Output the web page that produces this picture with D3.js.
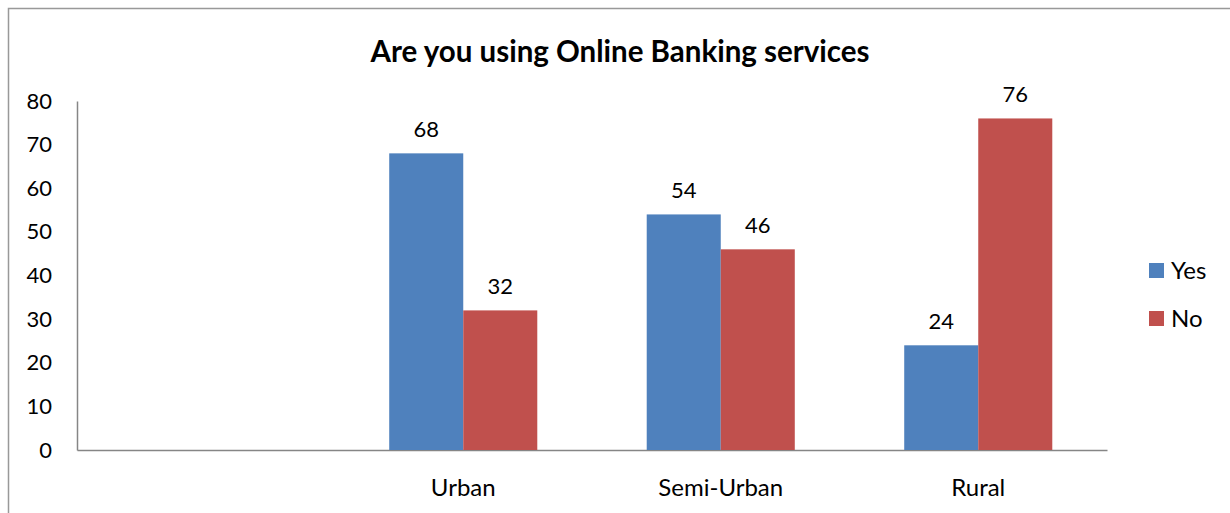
<!DOCTYPE html>
<html>
<head>
<meta charset="utf-8">
<script src="https://cdn.jsdelivr.net/npm/d3@7"></script>
<style>
  html, body { margin: 0; padding: 0; background: #fff; }
  svg { display: block; font-family: Lato, "Open Sans", sans-serif; }
</style>
</head>
<body>
<svg id="chart" width="1230" height="513"></svg>
<script>
// Survey answers by area (percent)
const categories = ["", "Urban", "Semi-Urban", "Rural"];
const seriesNames = ["Yes", "No"];
const yesValues = [null, 68, 54, 24];
const noValues = [null, 32, 46, 76];
const yTicks = [0, 10, 20, 30, 40, 50, 60, 70, 80];
const colors = ["#4F81BD", "#C0504D"];
const title = "Are you using Online Banking services";

const svg = d3.select("#chart");

// outer chart frame
svg.append("rect")
  .attr("x", 8.5).attr("y", 8.5)
  .attr("width", 1240).attr("height", 520)
  .attr("fill", "none").attr("stroke", "#999").attr("stroke-width", 1.5);

const plot = { left: 77, right: 1107, top: 101, bottom: 450 };

const x0 = d3.scaleBand().domain(d3.range(categories.length))
  .range([plot.left, plot.right]).paddingInner(0).paddingOuter(0);
const groupWidth = x0.step() * 0.575;
const x1 = d3.scaleBand().domain(seriesNames).range([0, groupWidth]).padding(0);
const y = d3.scaleLinear().domain([0, 80]).range([plot.bottom, plot.top]);

// title
svg.append("text")
  .attr("x", 620).attr("y", 62)
  .attr("text-anchor", "middle")
  .attr("font-weight", "bold").attr("font-size", 29.5)
  .attr("fill", "#000")
  .text(title);

// y axis
const yAxis = svg.append("g")
  .attr("transform", `translate(${plot.left},0)`)
  .call(d3.axisLeft(y).tickValues(yTicks).tickSize(0).tickPadding(25));
yAxis.select(".domain").attr("stroke", "#868686").attr("stroke-width", 1.5);
yAxis.selectAll("text").attr("font-size", 22).attr("fill", "#000")
  .attr("font-family", "Lato, 'Open Sans', sans-serif");

// x axis
const xAxis = svg.append("g")
  .attr("transform", `translate(0,${plot.bottom})`)
  .call(d3.axisBottom(x0).tickFormat(i => categories[i]).tickSize(0).tickPadding(29));
xAxis.select(".domain").attr("stroke", "#868686").attr("stroke-width", 1.5);
xAxis.selectAll("text").attr("font-size", 24).attr("fill", "#000")
  .attr("font-family", "Lato, 'Open Sans', sans-serif");

// bars and value labels
const rows = categories.map((c, i) => ({ i, values: [yesValues[i], noValues[i]] }));
const groups = svg.append("g").selectAll("g").data(rows).join("g")
  .attr("transform", d => `translate(${x0(d.i) + (x0.step() - groupWidth) / 2},0)`);

groups.selectAll("rect")
  .data(d => d.values.map((v, k) => ({ v, k })).filter(e => e.v != null))
  .join("rect")
  .attr("x", e => x1(seriesNames[e.k]))
  .attr("y", e => y(e.v))
  .attr("width", x1.bandwidth())
  .attr("height", e => y(0) - y(e.v))
  .attr("fill", e => colors[e.k]);

groups.selectAll("text")
  .data(d => d.values.map((v, k) => ({ v, k })).filter(e => e.v != null))
  .join("text")
  .attr("x", e => x1(seriesNames[e.k]) + x1.bandwidth() / 2)
  .attr("y", e => y(e.v) - 16)
  .attr("text-anchor", "middle")
  .attr("font-size", 22).attr("fill", "#000")
  .text(e => e.v);

// legend
const legend = svg.append("g").selectAll("g").data(seriesNames).join("g")
  .attr("transform", (d, k) => `translate(1149,${263 + k * 48})`);
legend.append("rect").attr("width", 15).attr("height", 15)
  .attr("fill", (d, k) => colors[k]);
legend.append("text").attr("x", 22).attr("y", 16)
  .attr("font-size", 24).attr("fill", "#000").text(d => d);
</script>
</body>
</html>
